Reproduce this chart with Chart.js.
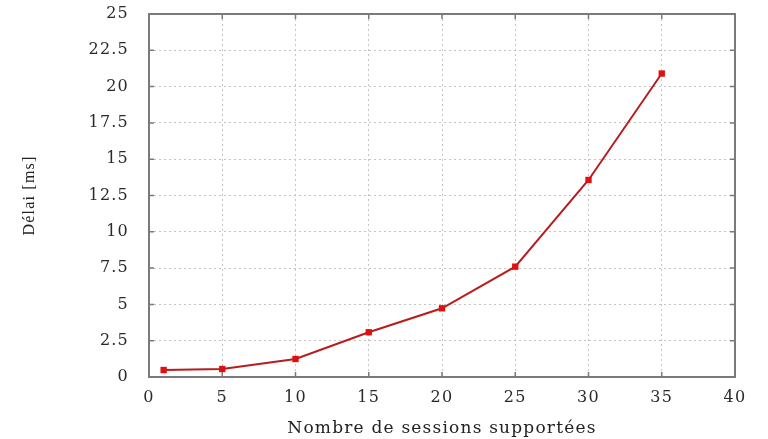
<!DOCTYPE html>
<html>
<head>
<meta charset="utf-8">
<script src="https://cdn.jsdelivr.net/npm/chart.js@4/dist/chart.umd.min.js"></script>
<style>
    html, body { margin: 0; padding: 0; background: #fff; }
    #wrap { width: 768px; height: 439px; }
</style>
</head>
<body>
<div id="wrap"><canvas id="chart" width="768" height="439"></canvas></div>
<script>
// données
const sessions = [1, 5, 10, 15, 20, 25, 30, 35];
const delais = [0.48, 0.55, 1.24, 3.08, 4.73, 7.6, 13.57, 20.9];
const xTicks = [0, 5, 10, 15, 20, 25, 30, 35, 40];
const yTicks = [0, 2.5, 5, 7.5, 10, 12.5, 15, 17.5, 20, 22.5, 25];

const serif = '"DejaVu Serif", "Liberation Serif", serif';

// texte un peu espacé comme sur l'original
const spacingPlugin = {
    id: 'spacing',
    beforeDraw(chart) { chart.ctx.letterSpacing = '1.2px'; },
    afterDraw(chart) { chart.ctx.letterSpacing = '0px'; }
};

// cadre et petites graduations intérieures, façon gnuplot
const framePlugin = {
    id: 'frame',
    afterDatasetsDraw(chart) {
        const { ctx, chartArea: a, scales } = chart;
        ctx.save();
        ctx.strokeStyle = '#7a7a7a';
        ctx.lineWidth = 1.5;
        const len = 5;
        ctx.beginPath();
        scales.x.ticks.forEach(t => {
            const px = scales.x.getPixelForValue(t.value);
            ctx.moveTo(px, a.bottom); ctx.lineTo(px, a.bottom - len);
            ctx.moveTo(px, a.top); ctx.lineTo(px, a.top + len);
        });
        scales.y.ticks.forEach(t => {
            const py = scales.y.getPixelForValue(t.value);
            ctx.moveTo(a.left, py); ctx.lineTo(a.left + len, py);
            ctx.moveTo(a.right, py); ctx.lineTo(a.right - len, py);
        });
        ctx.stroke();
        ctx.lineWidth = 2;
        ctx.strokeRect(a.left, a.top, a.right - a.left, a.bottom - a.top);
        ctx.restore();
    }
};

new Chart(document.getElementById('chart'), {
    type: 'line',
    data: {
        datasets: [{
            data: sessions.map((s, i) => ({ x: s, y: delais[i] })),
            borderColor: '#b81c1c',
            borderWidth: 2,
            pointStyle: 'rect',
            pointRadius: 4.5,
            pointBackgroundColor: '#e01010',
            pointBorderColor: '#e01010',
            pointBorderWidth: 0,
            tension: 0
        }]
    },
    options: {
        responsive: false,
        animation: false,
        layout: { padding: { left: 0, right: 33, top: 14, bottom: 0 } },
        plugins: {
            legend: { display: false },
            tooltip: { enabled: false }
        },
        scales: {
            x: {
                type: 'linear',
                min: 0,
                max: 40,
                afterBuildTicks: s => { s.ticks = xTicks.map(v => ({ value: v })); },
                afterFit: s => { s.height = 62; },
                grid: {
                    color: '#c4c4c4',
                    lineWidth: 1,
                    drawTicks: false
                },
                border: { display: false, dash: [2, 3] },
                ticks: {
                    color: '#2a2a2a',
                    padding: 11,
                    font: { family: serif, size: 16 },
                    maxRotation: 0
                },
                title: {
                    display: true,
                    text: 'Nombre de sessions supportées',
                    color: '#222',
                    padding: { top: 0, bottom: 0 },
                    font: { family: serif, size: 17 }
                }
            },
            y: {
                type: 'linear',
                min: 0,
                max: 25,
                afterBuildTicks: s => { s.ticks = yTicks.map(v => ({ value: v })); },
                afterFit: s => {
                    s.width = 149;
                    s.paddingTop = 0;
                    s.paddingBottom = 0;
                },
                grid: {
                    color: '#c4c4c4',
                    lineWidth: 1,
                    drawTicks: false
                },
                border: { display: false, dash: [2, 3] },
                ticks: {
                    color: '#2a2a2a',
                    padding: 20,
                    font: { family: serif, size: 16 },
                    callback: v => String(v)
                },
                title: {
                    display: true,
                    text: 'Délai [ms]',
                    color: '#222',
                    padding: { top: 20, bottom: 0 },
                    font: { family: '"Liberation Serif", serif', size: 16 }
                }
            }
        }
    },
    plugins: [spacingPlugin, framePlugin]
});
</script>
</body>
</html>
